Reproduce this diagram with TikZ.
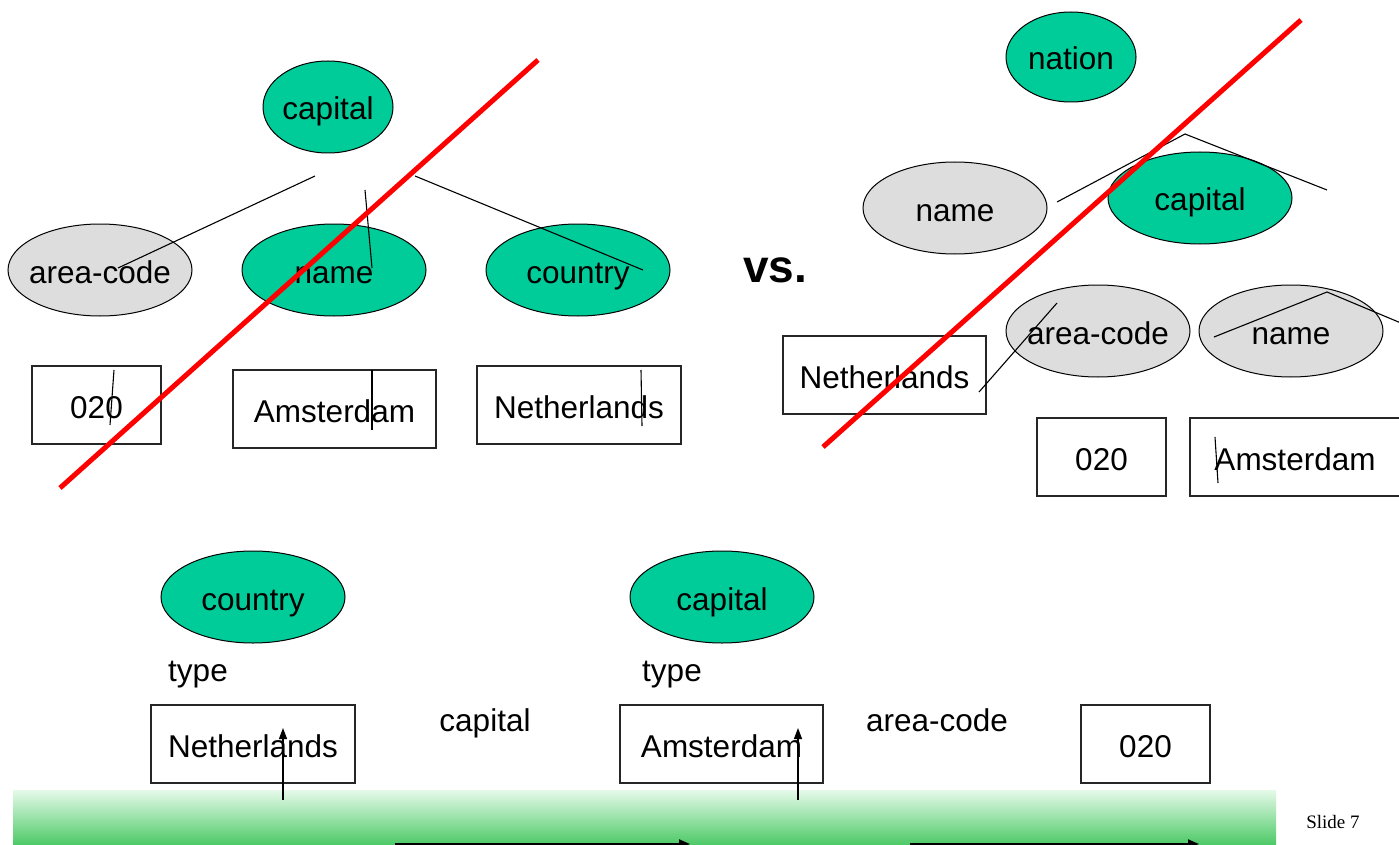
\documentclass[tikz,border=0pt]{standalone}
\usepackage{fontspec}
\setmainfont{Liberation Sans}
\newfontfamily\slidefont{Liberation Serif}
\usetikzlibrary{shapes.geometric,arrows.meta}
\definecolor{entgreen}{HTML}{00CC99}
\definecolor{ovalgray}{HTML}{DDDDDD}
\definecolor{bandtop}{HTML}{E6FAEA}
\definecolor{bandmid}{HTML}{B5E8BF}
\definecolor{bandbot}{HTML}{4CC966}
\begin{document}
\begin{tikzpicture}[x=1pt,y=-1pt,
  lbl/.style={font=\fontsize{31.5}{36}\selectfont,text height=30pt,text depth=4pt},
  ent/.style={ellipse,draw=black,line width=1pt,fill=entgreen,minimum width=184pt,minimum height=92pt,inner xsep=-30pt,inner ysep=0pt,lbl},
  attr/.style={ent,fill=ovalgray},
  valbox/.style={rectangle,draw=black!85,line width=1.2pt,fill=white,minimum height=78pt,inner sep=0pt,lbl},
  frag/.style={draw=black,line width=1.1pt},
  cross/.style={draw=red,line width=5pt},
  uparrow/.style={draw=black,line width=1.2pt,-{Triangle[length=11pt,width=8pt]}},
  rarrow/.style={draw=black,line width=2pt,-{Triangle[length=11pt,width=9pt]}}]
\clip (0,0) rectangle (1399,845);
\fill[white] (0,0) rectangle (1399,845);

% ---------- top left ----------
\node[ent,minimum width=130pt] (tlcap) at (328,107) {capital};
\node[attr] (tlarea) at (100,270) {area-code};
\node[ent] (tlname) at (334,270) {name};
\node[ent] (tlcountry) at (578,270) {country};
\node[valbox,minimum width=129pt] (tl020) at (96.5,405) {020};
\node[valbox,minimum width=203pt] (tlams) at (334.5,409) {Amsterdam};
\node[valbox,minimum width=204pt] (tlneth) at (579,405) {Netherlands};

\coordinate (f1a) at (315,176); \coordinate (f1b) at (118,268);
\coordinate (f2a) at (365,190); \coordinate (f2b) at (372,268);
\coordinate (f3a) at (415,176); \coordinate (f3b) at (643,270);
\coordinate (f4a) at (114,370); \coordinate (f4b) at (110,425);
\coordinate (f5a) at (372,370); \coordinate (f5b) at (372,430);
\coordinate (f6a) at (641,370); \coordinate (f6b) at (642,426);
\draw[frag] (f1a) -- (f1b);
\draw[frag] (f2a) -- (f2b);
\draw[frag] (f3a) -- (f3b);
\draw[frag] (f4a) -- (f4b);
\draw[frag] (f5a) -- (f5b);
\draw[frag] (f6a) -- (f6b);
\coordinate (x1a) at (60,488); \coordinate (x1b) at (538,60);
\draw[cross] (x1a) -- (x1b);

% ---------- vs ----------
\node[font=\fontsize{46}{50}\selectfont\bfseries] (vs) at (775,270) {vs.};

% ---------- top right ----------
\node[ent,minimum width=130pt,minimum height=90pt] (trnation) at (1071,57) {nation};
\node[attr] (trname) at (955,208) {name};
\node[ent] (trcap) at (1200,198) {capital};
\node[attr] (trarea) at (1098,331) {area-code};
\node[attr] (trname2) at (1291,331) {name};
\node[valbox,minimum width=203pt] (trneth) at (884.5,375) {Netherlands};
\node[valbox,minimum width=129pt] (tr020) at (1101.5,457) {020};
\node[valbox,minimum width=210pt] (trams) at (1295,457) {Amsterdam};

\coordinate (g1a) at (1057,202); \coordinate (g1b) at (1185,134); \coordinate (g1c) at (1327,190);
\coordinate (g2a) at (1214,337); \coordinate (g2b) at (1327,292); \coordinate (g2c) at (1420,331);
\coordinate (g3a) at (979,392); \coordinate (g3b) at (1057,303);
\coordinate (g4a) at (1215,437); \coordinate (g4b) at (1218,483);
\draw[frag] (g1a) -- (g1b) -- (g1c);
\draw[frag] (g2a) -- (g2b) -- (g2c);
\draw[frag] (g3a) -- (g3b);
\draw[frag] (g4a) -- (g4b);
\coordinate (x2a) at (823,447); \coordinate (x2b) at (1301,20);
\draw[cross] (x2a) -- (x2b);

% ---------- bottom ----------
\node[ent] (bcountry) at (253,597) {country};
\node[ent] (bcap) at (722,597) {capital};
\node[lbl] (btype1) at (198,668) {type};
\node[lbl] (btype2) at (672,668) {type};
\node[lbl] (bcaplbl) at (485,718) {capital};
\node[lbl] (barealbl) at (937,718) {area-code};
\node[valbox,minimum width=204pt] (bneth) at (253,744) {Netherlands};
\node[valbox,minimum width=203pt] (bams) at (721.5,744) {Amsterdam};
\node[valbox,minimum width=129pt] (b020) at (1145.5,744) {020};

\shade[top color=bandtop,middle color=bandmid,bottom color=bandbot] (13,790) rectangle (1276,845);

\coordinate (u1a) at (283,800); \coordinate (u1b) at (283,728);
\coordinate (u2a) at (798,800); \coordinate (u2b) at (798,728);
\draw[uparrow] (u1a) -- (u1b);
\draw[uparrow] (u2a) -- (u2b);
\coordinate (r1a) at (395,844); \coordinate (r1b) at (690,844);
\coordinate (r2a) at (910,844); \coordinate (r2b) at (1199,844);
\draw[rarrow] (r1a) -- (r1b);
\draw[rarrow] (r2a) -- (r2b);

\node[font=\slidefont\fontsize{19}{22}\selectfont] (slide) at (1333,822) {Slide 7};
\end{tikzpicture}
\end{document}
